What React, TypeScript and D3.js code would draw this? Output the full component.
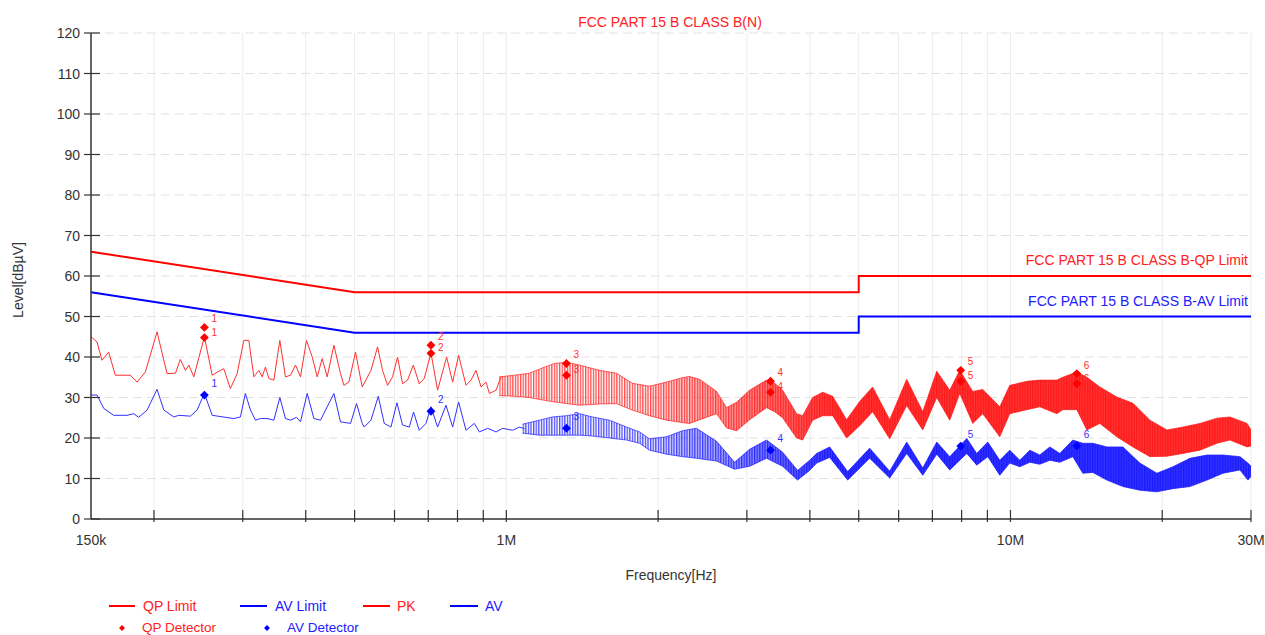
import React from 'react';
import * as d3 from 'd3';

// ---------- data (frequency in kHz, level in dBµV) ----------
const qpLimit: [number, number][] = [[150, 66], [500, 56], [5000, 56], [5000, 60], [30000, 60]];
const avLimit: [number, number][] = [[150, 56], [500, 46], [5000, 46], [5000, 50], [30000, 50]];

const pkLow: [number, number][] = [
  [150, 45.0], [154.2, 43.7], [157.7, 39.2], [162.6, 41.2], [167.6, 35.5], [179.5, 35.5], [185.1, 33.8],
  [192.3, 36.3], [202.8, 46.2], [212.3, 35.9], [220.6, 36.0], [225.6, 39.4], [230.9, 36.7], [234.5, 38.0],
  [239.9, 35.1], [251.8, 45.0], [260.9, 35.5], [270.9, 36.7], [275.1, 37.1], [283.5, 32.2], [292.4, 35.9],
  [301.5, 44.1], [308.4, 44.1], [315.6, 35.1], [322.8, 36.7], [327.8, 35.1], [332.7, 37.5], [338.0, 34.7],
  [345.8, 34.3], [355.4, 44.1], [364.6, 35.1], [373.1, 35.5], [381.7, 38.0], [390.5, 35.1], [401.4, 44.1],
  [412.0, 40.0], [421.5, 35.1], [431.2, 39.6], [441.2, 35.1], [454.9, 42.9], [468.8, 35.9], [476.2, 33.0],
  [487.2, 33.8], [502.1, 41.2], [517.7, 32.6], [538.8, 36.7], [555.3, 42.5], [568.1, 36.7], [581.3, 33.0],
  [594.7, 35.1], [608.4, 40.0], [622.4, 33.4], [636.9, 34.3], [653.7, 38.0], [671.8, 33.4], [687.3, 34.7],
  [708.7, 41.0], [730.5, 31.8], [761.2, 40.0], [782.4, 33.8], [804.1, 40.4], [831.8, 33.0], [851.0, 34.3],
  [870.6, 36.7], [890.9, 32.6], [911.4, 33.8], [925.4, 31.0], [954.1, 31.8], [976.1, 35.1],
];

const avLow: [number, number][] = [
  [150, 30.6], [154.2, 30.6], [159.0, 27.3], [166.4, 25.6], [176.8, 25.6], [182.3, 26.0], [186.5, 25.1],
  [193.8, 26.9], [202.8, 32.0], [209.2, 26.9], [218.9, 25.2], [224.0, 25.6], [236.2, 25.4], [243.5, 26.9],
  [251.8, 31.0], [260.9, 25.6], [288.0, 24.8], [296.8, 25.2], [303.6, 31.0], [310.8, 26.9], [317.9, 24.4],
  [325.3, 24.8], [335.4, 24.8], [345.8, 24.4], [355.4, 30.0], [364.6, 24.8], [373.1, 24.4], [383.4, 25.1],
  [390.5, 24.0], [402.7, 31.0], [415.2, 24.8], [427.9, 24.4], [454.9, 31.0], [468.8, 24.0], [490.8, 23.6],
  [504.5, 28.5], [517.7, 23.6], [522.5, 22.7], [538.8, 24.4], [557.1, 30.3], [572.5, 23.6], [590.3, 22.7],
  [606.7, 28.7], [622.4, 23.2], [641.8, 22.7], [654.6, 26.4], [671.8, 21.9], [692.7, 23.6], [708.7, 27.7],
  [730.5, 22.7], [759.1, 28.1], [782.4, 22.7], [804.1, 28.9], [831.8, 21.9], [864.0, 23.6], [883.9, 21.5],
  [918.2, 22.4], [954.1, 21.5], [983.3, 22.4], [1029, 21.9], [1061, 22.7], [1086, 22.3],
];

// dense part of the sweep: [kHz, upper envelope, lower envelope]
const pkBand: [number, number, number][] = [
  [968.5, 35.1, 30.5], [1037, 35.5, 30.3], [1111, 36.0, 30.0], [1190, 37.5, 29.3], [1246, 38.4, 28.9],
  [1316, 38.7, 28.5], [1396, 38.0, 28.1], [1530, 36.7, 28.4], [1653, 36.0, 28.5], [1779, 33.5, 26.9],
  [1923, 32.8, 25.5], [2078, 33.8, 24.4], [2236, 34.9, 23.8], [2308, 35.2, 23.6], [2417, 34.5, 24.5],
  [2612, 31.5, 26.0], [2734, 27.5, 22.5], [2862, 28.8, 21.8], [3037, 31.8, 24.5], [3282, 34.3, 27.5],
  [3405, 33.5, 26.5], [3532, 31.8, 25.0], [3765, 26.0, 20.0], [3870, 25.5, 19.5], [4051, 30.0, 24.4],
  [4241, 31.3, 25.5], [4439, 30.3, 25.5], [4731, 24.5, 20.0], [5021, 29.0, 23.0], [5328, 32.6, 26.5],
  [5760, 24.5, 19.8], [6225, 34.5, 28.0], [6699, 26.5, 22.0], [7141, 36.5, 30.0], [7577, 31.8, 24.4],
  [7932, 36.7, 31.0], [8418, 31.5, 23.6], [8811, 32.0, 26.0], [9524, 27.7, 20.3], [9968, 33.0, 26.0],
  [10775, 34.0, 27.0], [11433, 34.3, 27.7], [12359, 34.3, 26.0], [12700, 35.0, 27.0], [13539, 36.3, 27.0],
  [14175, 35.0, 22.0], [15041, 32.6, 23.6], [16256, 30.1, 20.3], [17491, 28.6, 17.8], [18905, 24.4, 15.4],
  [20432, 22.0, 15.5], [21989, 22.7, 16.2], [23765, 23.6, 17.0], [25686, 24.9, 18.7], [27250, 25.2, 19.5],
  [29461, 23.6, 17.8], [30000, 22.0, 18.0],
];

const avBand: [number, number, number][] = [
  [1076, 23.4, 21.2], [1163, 24.4, 20.7], [1234, 25.2, 20.7], [1316, 25.5, 20.7], [1396, 26.0, 20.7],
  [1481, 25.2, 20.5], [1601, 24.4, 20.0], [1731, 22.7, 19.5], [1837, 21.5, 18.7], [1923, 19.8, 17.0],
  [2078, 20.3, 16.0], [2236, 21.8, 15.4], [2383, 22.4, 15.0], [2612, 19.2, 14.3], [2836, 14.0, 12.3],
  [3037, 17.2, 13.0], [3282, 19.5, 15.0], [3532, 16.5, 13.0], [3782, 12.0, 9.6], [3996, 14.5, 12.0],
  [4126, 16.2, 13.8], [4379, 17.8, 15.2], [4754, 11.7, 9.6], [5256, 17.5, 15.0], [5760, 11.8, 10.1],
  [6225, 19.0, 16.2], [6699, 12.6, 10.8], [7141, 19.0, 16.0], [7577, 15.4, 12.1], [8190, 19.9, 16.2],
  [8573, 16.2, 13.3], [9015, 19.0, 15.4], [9524, 14.5, 10.8], [9968, 17.0, 13.8], [10436, 14.5, 12.9],
  [10922, 17.0, 14.0], [11433, 15.8, 13.5], [11970, 17.8, 14.5], [12528, 16.2, 14.0], [13293, 19.5, 15.4],
  [13917, 18.7, 11.3], [14568, 18.7, 11.5], [15531, 17.8, 9.6], [16710, 17.8, 8.0], [18060, 13.8, 7.1],
  [19516, 11.3, 6.7], [21002, 12.9, 7.5], [22703, 15.0, 8.0], [24538, 15.8, 9.6], [26400, 15.8, 11.3],
  [28526, 15.4, 12.1], [29582, 13.8, 9.6], [30000, 13.0, 10.5],
];

const markerNo = ['1', '2', '3', '4', '5', '6'];
const markerFreq = [251.8, 708.7, 1316, 3342, 7968, 13539];
const qpUpper = [47.3, 42.9, 38.4, 34.0, 36.7, 35.9];
const qpLower = [44.8, 40.9, 35.5, 31.3, 34.0, 33.4];
const avMarker = [30.6, 26.6, 22.4, 17.0, 18.0, 18.0];

const yTicks = [0, 10, 20, 30, 40, 50, 60, 70, 80, 90, 100, 110, 120];
const xMinorTicks = [200, 300, 400, 500, 600, 700, 800, 900, 1000, 2000, 3000, 4000, 5000, 6000, 7000, 8000, 9000, 10000, 20000, 30000];
const xTickLabels: [string, number][] = [['150k', 150], ['1M', 1000], ['10M', 10000], ['30M', 30000]];

const RED = '#ff0000';
const BLUE = '#0000ff';
const FONT = 'Liberation Sans, Arial, sans-serif';

export default function App() {
  const x = d3.scaleLog().domain([150, 30000]).range([91, 1251]);
  const y = d3.scaleLinear().domain([0, 120]).range([519, 33]);
  const line = d3.line<[number, number]>().x(d => x(d[0])).y(d => y(d[1]));
  const area = d3.area<[number, number, number]>().x(d => x(d[0])).y0(d => y(d[2])).y1(d => y(d[1]));
  const hiLine = d3.line<[number, number, number]>().x(d => x(d[0])).y(d => y(d[1]));
  const loLine = d3.line<[number, number, number]>().x(d => x(d[0])).y(d => y(d[2]));
  const diamond = d3.symbol(d3.symbolDiamond2, 50)();
  const diamondSmall = d3.symbol(d3.symbolDiamond2, 22)();

  const x0 = x.range()[0], x1 = x.range()[1];
  const yb = y(0), yt = y(120);

  return (
    <svg width={1265} height={635} style={{ position: 'absolute', left: 0, top: 0, background: '#fff' }} fontFamily={FONT}>
      <defs>
        <pattern id="hatchR" width={2.6} height={6} patternUnits="userSpaceOnUse">
          <rect x={0} y={0} width={1.3} height={6} fill="#ff2020" />
        </pattern>
        <pattern id="hatchB" width={2.6} height={6} patternUnits="userSpaceOnUse">
          <rect x={0} y={0} width={1.3} height={6} fill="#2020ff" />
        </pattern>
        <linearGradient id="pkg" gradientUnits="userSpaceOnUse" x1={x(1800)} x2={x(4500)} y1={0} y2={0}>
          <stop offset="0" stopColor="#ff1010" stopOpacity={0} />
          <stop offset="1" stopColor="#ff1010" stopOpacity={0.85} />
        </linearGradient>
        <linearGradient id="avg" gradientUnits="userSpaceOnUse" x1={x(1800)} x2={x(4500)} y1={0} y2={0}>
          <stop offset="0" stopColor="#1010ff" stopOpacity={0} />
          <stop offset="1" stopColor="#1010ff" stopOpacity={0.85} />
        </linearGradient>
      </defs>

      {/* grid */}
      {xMinorTicks.map(t => (
        <line key={'vg' + t} x1={x(t)} x2={x(t)} y1={yt} y2={yb} stroke="#ececec" strokeWidth={1} />
      ))}
      {yTicks.filter(t => t > 0).map(t => (
        <line key={'hg' + t} x1={x0} x2={x1} y1={y(t)} y2={y(t)} stroke="#e2e2e2" strokeWidth={1} strokeDasharray="9,5" />
      ))}

      {/* title */}
      <text x={670} y={27} textAnchor="middle" fontSize={14} fill="#ff2020">FCC PART 15 B CLASS B(N)</text>

      {/* traces */}
      <path d={area(pkBand) || ''} fill="url(#hatchR)" stroke="none" opacity={0.8} />
      <path d={area(pkBand) || ''} fill="url(#pkg)" stroke="none" />
      <path d={hiLine(pkBand) || ''} fill="none" stroke="#ff2020" strokeWidth={0.7} />
      <path d={loLine(pkBand) || ''} fill="none" stroke="#ff2020" strokeWidth={0.7} />
      <path d={line(pkLow) || ''} fill="none" stroke="#ff3030" strokeWidth={1} />

      <path d={area(avBand) || ''} fill="url(#hatchB)" stroke="none" opacity={0.8} />
      <path d={area(avBand) || ''} fill="url(#avg)" stroke="none" />
      <path d={hiLine(avBand) || ''} fill="none" stroke="#2020ff" strokeWidth={0.7} />
      <path d={loLine(avBand) || ''} fill="none" stroke="#2020ff" strokeWidth={0.7} />
      <path d={line(avLow) || ''} fill="none" stroke="#3030ff" strokeWidth={1} />

      {/* limits */}
      <path d={line(qpLimit) || ''} fill="none" stroke={RED} strokeWidth={2} />
      <path d={line(avLimit) || ''} fill="none" stroke={BLUE} strokeWidth={2} />
      <text x={1248} y={265} textAnchor="end" fontSize={14} fill="#ff2020">FCC PART 15 B CLASS B-QP Limit</text>
      <text x={1248} y={306} textAnchor="end" fontSize={14} fill="#2020ff">FCC PART 15 B CLASS B-AV Limit</text>

      {/* markers */}
      {markerFreq.map((f, i) => (
        <g key={'m' + i}>
          <path d={diamond || ''} transform={`translate(${x(f)},${y(qpUpper[i])})`} fill={RED} />
          <path d={diamond || ''} transform={`translate(${x(f)},${y(qpLower[i])})`} fill={RED} />
          <path d={diamond || ''} transform={`translate(${x(f)},${y(avMarker[i])})`} fill={BLUE} />
          <text x={x(f) + 7} y={y(qpUpper[i]) - 5} fontSize={10} fill="#ff3030">{markerNo[i]}</text>
          <text x={x(f) + 7} y={y(qpLower[i]) - 2} fontSize={10} fill="#ff3030">{markerNo[i]}</text>
          <text x={x(f) + 7} y={y(avMarker[i]) - 8} fontSize={10} fill="#3030ff">{markerNo[i]}</text>
        </g>
      ))}

      {/* axes */}
      <line x1={x0} x2={x0} y1={yt} y2={yb} stroke="#333" strokeWidth={1.5} />
      <line x1={x0} x2={x1} y1={yb} y2={yb} stroke="#333" strokeWidth={1.5} />
      {yTicks.map(t => (
        <g key={'yt' + t}>
          <line x1={x0 - 7} x2={x0 + 9} y1={y(t)} y2={y(t)} stroke="#333" strokeWidth={1.2} />
          <text x={80} y={y(t) + 5} textAnchor="end" fontSize={14} fill="#333">{t}</text>
        </g>
      ))}
      {xMinorTicks.map(t => (
        <line key={'xt' + t} x1={x(t)} x2={x(t)} y1={yb - 9} y2={yb + 3} stroke="#333" strokeWidth={1.2} />
      ))}
      {xTickLabels.map(([s, v]) => (
        <text key={'xl' + s} x={x(v)} y={545} textAnchor="middle" fontSize={14} fill="#333">{s}</text>
      ))}
      <text x={671} y={580} textAnchor="middle" fontSize={14} fill="#333">Frequency[Hz]</text>
      <text transform="translate(23,280) rotate(-90)" textAnchor="middle" fontSize={14} fill="#333">Level[dBµV]</text>

      {/* legend */}
      <g fontSize={14}>
        <line x1={109} x2={135} y1={606} y2={606} stroke={RED} strokeWidth={2} />
        <text x={143} y={611} fill="#ff2020">QP Limit</text>
        <line x1={240} x2={267} y1={606} y2={606} stroke={BLUE} strokeWidth={2} />
        <text x={275} y={611} fill="#2020ff">AV Limit</text>
        <line x1={363} x2={390} y1={606} y2={606} stroke={RED} strokeWidth={2} />
        <text x={397} y={611} fill="#ff2020">PK</text>
        <line x1={450} x2={478} y1={606} y2={606} stroke={BLUE} strokeWidth={2} />
        <text x={485} y={611} fill="#2020ff">AV</text>
        <path d={diamondSmall || ''} transform="translate(122,628)" fill={RED} />
        <text x={142} y={632} fill="#ff2020" fontSize={13.5}>QP Detector</text>
        <path d={diamondSmall || ''} transform="translate(267,628)" fill={BLUE} />
        <text x={287} y={632} fill="#2020ff" fontSize={13.5}>AV Detector</text>
      </g>
    </svg>
  );
}
